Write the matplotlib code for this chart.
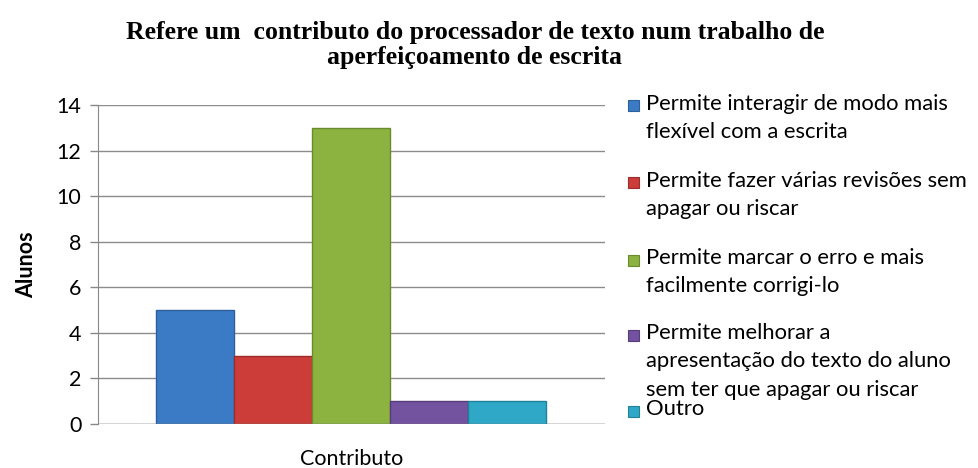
from matplotlib import pyplot as plt
import numpy as np

# Data
series_labels = [
    'Permite interagir de modo mais\nflexível com a escrita',
    'Permite fazer várias revisões sem\napagar ou riscar',
    'Permite marcar o erro e mais\nfacilmente corrigi-lo',
    'Permite melhorar a\napresentação do texto do aluno\nsem ter que apagar ou riscar',
    'Outro',
]
series_values = [5, 3, 13, 1, 1]
series_colors = ['#3b7bc6', '#cc3c38', '#8cb240', '#7352a0', '#2ea8c6']
edge_colors = ['#2d5f9a', '#9c2c2a', '#6a8a2e', '#563c7a', '#21809a']
category = 'Contributo'
yticks = [0, 2, 4, 6, 8, 10, 12, 14]

fig = plt.figure(figsize=(9.79, 4.68), dpi=100)
ax = fig.add_axes([98 / 979, 1 - 424 / 468, (605 - 98) / 979, (424 - 105) / 468])

bar_width = 78 / 507
n = len(series_values)
offsets = (np.arange(n) - (n - 1) / 2) * bar_width
for i in range(n):
    ax.bar(offsets[i], series_values[i], width=bar_width, color=series_colors[i],
           edgecolor=edge_colors[i], linewidth=1, zorder=3)

ax.set_xlim(-0.5, 0.5)
ax.set_ylim(0, 14)
ax.set_yticks(yticks)
ax.set_yticklabels([str(t) for t in yticks], fontsize=15.5, family='Lato')
ax.set_xticks([0])
ax.set_xticklabels([category], fontsize=15.5, family='Lato')
ax.tick_params(axis='x', length=0, pad=18)
ax.tick_params(axis='y', length=6, color='#888888', width=1, pad=6)
ax.yaxis.grid(True, color='#8c8c8c', linewidth=1)
ax.set_axisbelow(True)
for side in ['top', 'right', 'bottom']:
    ax.spines[side].set_visible(False)
ax.spines['left'].set_color('#888888')
ax.axhline(0, color='#888888', linewidth=1, zorder=4)

ax.set_ylabel('Alunos', fontsize=15.5, fontweight='bold', family='Lato', labelpad=14)

fig.text(475 / 979, 1 - 45 / 468,
         'Refere um  contributo do processador de texto num trabalho de\naperfeiçoamento de escrita',
         ha='center', va='center', fontsize=18.5, fontweight='bold',
         family='Liberation Serif', linespacing=1.12)

# Legend drawn manually (the last two entries touch, as in the original)
legend_y = [106, 183, 260, 335, 411]
for i in range(n):
    y = 1 - legend_y[i] / 468
    fig.patches.append(plt.Rectangle((628 / 979, y - 5.5 / 468), 11 / 979, 11 / 468,
                                     transform=fig.transFigure, facecolor=series_colors[i],
                                     edgecolor=edge_colors[i], linewidth=0.8))
    fig.text(646 / 979, y + 12 / 468, series_labels[i], ha='left', va='top',
             fontsize=15.8, family='Lato', linespacing=1.52)

fig.savefig('out.png', dpi=100)
